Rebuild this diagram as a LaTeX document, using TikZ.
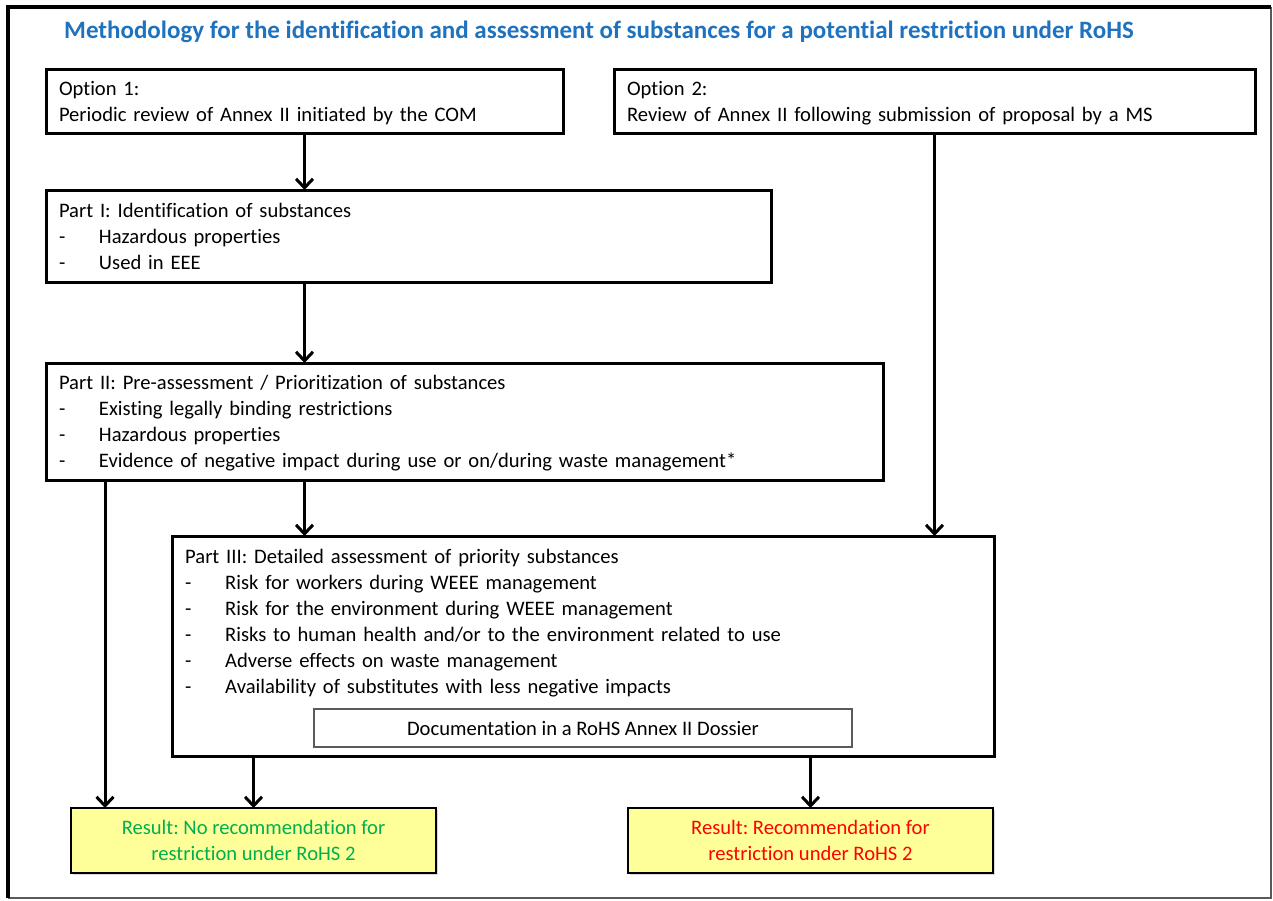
\documentclass[tikz,border=0pt]{standalone}
\usepackage{fontspec}
\setmainfont{Carlito}[RawFeature=-liga]
\usetikzlibrary{arrows.meta,shadows,calc}
\frenchspacing

\definecolor{titleblue}{RGB}{31,114,190}
\definecolor{resultfill}{RGB}{255,255,153}
\definecolor{resultgreen}{RGB}{0,176,80}
\definecolor{resultred}{RGB}{255,0,0}
\definecolor{framegray}{RGB}{90,90,90}

\newcommand\bodyfont{\fontsize{20.6}{26}\selectfont}
\newcommand\headfont{\fontsize{25}{28}\selectfont\bfseries}
\newcommand\linestrut{\rule[-6pt]{0pt}{26pt}}
\newcommand\txtline[1]{\linestrut#1}
\newcommand\dashitem[1]{\linestrut\makebox[40pt][l]{-}#1}

\tikzset{
  stagebox/.style={draw, line width=3pt, fill=white, anchor=north west,
    inner xsep=13pt, inner ysep=0pt, outer sep=0pt, align=left, font=\bodyfont,
    drop shadow={shadow xshift=2pt, shadow yshift=-2pt, opacity=0.3}},
  plaintext/.style={anchor=north west, inner xsep=13pt, inner ysep=2pt,
    align=left, font=\bodyfont},
  docbox/.style={draw=framegray, line width=1.3pt, fill=white, anchor=north west,
    inner sep=0pt, outer sep=0pt, font=\bodyfont},
  resultbox/.style={draw, line width=2pt, fill=resultfill, anchor=north west,
    inner sep=0pt, outer sep=0pt, align=center, font=\bodyfont,
    minimum width=365pt, minimum height=65pt,
    drop shadow={shadow xshift=2pt, shadow yshift=-2pt, opacity=0.3}},
  flow/.style={line width=3pt,
    -{Straight Barb[length=9pt,width=17pt,line width=3pt]}},
}

\begin{document}
\begin{tikzpicture}[x=1pt,y=-1pt]
  \useasboundingbox (0,0) rectangle (1273,900);

  % outer frame: heavy top/left, light right/bottom
  \draw[framegray, line width=2pt] (1271,7) -- (1271,898) -- (8,898);
  \draw[line width=3.5pt] (8,898) -- (8,7) -- (1271,7);

  % heading
  \node[anchor=west, inner sep=0pt, font=\headfont, text=titleblue] (title) at (64,31.5)
    {Methodology for the identification and assessment of substances for a potential restriction under RoHS};

  % entry points
  \node[stagebox, minimum width=517pt, minimum height=64pt, text width=491pt] (opt1) at (46,69)
    {\txtline{Option 1:}\\\txtline{Periodic review of Annex II initiated by the COM}};
  \node[stagebox, minimum width=641pt, minimum height=64pt, text width=615pt] (opt2) at (614,69)
    {\txtline{Option 2:}\\\txtline{Review of Annex II following submission of proposal by a MS}};

  % part I
  \node[stagebox, minimum width=725pt, minimum height=92pt, text width=699pt] (part1) at (46,190)
    {\txtline{Part I: Identification of substances}\\
     \dashitem{Hazardous properties}\\
     \dashitem{Used in EEE}};

  % part II
  \node[stagebox, minimum width=837pt, minimum height=117pt, text width=811pt] (part2) at (46,363)
    {\txtline{Part II: Pre-assessment / Prioritization of substances}\\
     \dashitem{Existing legally binding restrictions}\\
     \dashitem{Hazardous properties}\\
     \dashitem{Evidence of negative impact during use or on/during waste management*}};

  % part III
  \node[stagebox, minimum width=822pt, minimum height=220pt] (part3) at (172,536) {};
  \node[plaintext, text width=796pt] (part3text) at (172,541)
    {\txtline{Part III: Detailed assessment of priority substances}\\
     \dashitem{Risk for workers during WEEE management}\\
     \dashitem{Risk for the environment during WEEE management}\\
     \dashitem{Risks to human health and/or to the environment related to use}\\
     \dashitem{Adverse effects on waste management}\\
     \dashitem{Availability of substitutes with less negative impacts}};
  \node[docbox, minimum width=538pt, minimum height=38pt] (dossier) at (314,709)
    {Documentation in a RoHS Annex II Dossier};

  % results
  \node[resultbox, text=resultgreen] (nores) at (71,808)
    {\txtline{Result: No recommendation for}\\\txtline{restriction under RoHS 2}};
  \node[resultbox, text=resultred] (res) at (628,808)
    {\txtline{Result: Recommendation for}\\\txtline{restriction under RoHS 2}};

  \coordinate (shortcut) at (105,808);

  % connectors
  \draw[flow] (opt1.south) -- (opt1.south |- part1.north);
  \draw[flow] (opt1.south |- part1.south) -- (opt1.south |- part2.north);
  \draw[flow] (opt1.south |- part2.south) -- (opt1.south |- part3.north);
  \draw[flow] (opt2.south) -- (opt2.south |- part3.north);
  \draw[flow] (shortcut |- part2.south) -- (shortcut);
  \draw[flow] (nores.north |- part3.south) -- (nores.north);
  \draw[flow] (res.north |- part3.south) -- (res.north);
\end{tikzpicture}
\end{document}
